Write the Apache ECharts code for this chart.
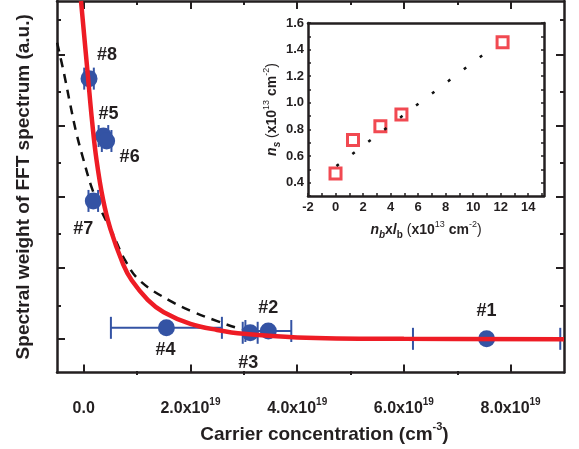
<!DOCTYPE html>
<html><head><meta charset="utf-8">
<script src="https://cdn.jsdelivr.net/npm/echarts@6/dist/echarts.min.js"></script>
<style>html,body{margin:0;padding:0;background:#fff}#c{width:579px;height:449px}</style>
</head><body><div id="c"></div>
<script>
// ---- main panel data (carrier concentration in units of 1e19 cm^-3) ----
const sampleNames    = ['#1', '#2', '#3', '#4', '#5', '#6', '#7', '#8'];
const carrierConc    = [7.55, 3.46, 3.12, 1.55, 0.37, 0.43, 0.18, 0.10];
const spectralWeight = [0.00, 0.22, 0.17, 0.31, 5.72, 5.58, 3.89, 7.34];
const carrierErr     = [1.38, 0.43, 0.14, 1.04, 0.09, 0.09, 0.09, 0.09];

// red solid fit curve
const fitX = [-0.05, 0.08, 0.16, 0.24, 0.36, 0.50, 0.74, 0.90, 1.20, 1.50, 2.00, 2.50, 3.00, 4.00, 6.00, 9.00];
const fitY = [9.53, 7.40, 6.10, 5.05, 3.95, 3.10, 2.10, 1.65, 1.10, 0.75, 0.42, 0.25, 0.14, 0.04, 0.00, -0.01];
// black dashed curve
const dashX = [-0.497, -0.365, -0.253, -0.141, -0.009, 0.159, 0.328, 0.534, 0.778, 1.059, 1.621, 2.052, 2.502, 2.876, 3.157];
const dashY = [8.35, 7.46, 6.62, 5.83, 5.08, 4.23, 3.62, 3.00, 2.21, 1.63, 1.07, 0.76, 0.50, 0.31, 0.22];

// tick values
const xMajorTicks = [0, 2, 4, 6, 8];
const xMinorTicks = [1, 3, 5, 7];
const yMajorTicks = [0, 2, 4, 6, 8];
const yMinorTicks = [1, 3, 5, 7, 9];

// ---- inset data ----
const nbLb = [0.0, 1.27, 3.26, 4.79, 12.14];
const ns   = [0.47, 0.72, 0.825, 0.913, 1.455];
const lineX = [0.065, 11.21];
const lineY = [0.525, 1.40];

// ---- styles ----
const FONT = 'Liberation Sans, Arial, Helvetica, sans-serif';
const TXT = '#231f20';
const BLUE = '#3453a4';
const RED = '#ee1c25';
const labelOffsets = {'#1':[0,-28], '#2':[0,-23], '#3':[-2,30], '#4':[-1,22], '#5':[5,-22], '#6':[23,16], '#7':[-10,28], '#8':[18,-24]};

const chart = echarts.init(document.getElementById('c'), null, {renderer: 'canvas'});

const mainGrid = {left: 57, right: 15, top: 1, bottom: 74};
const xMin = -0.5, xMax = 9.0, yMin = -0.953, yMax = 9.53;
const frameLine = {show: true, onZero: false, lineStyle: {color: TXT, width: 2.5}};
const noLine = {show: false, onZero: false};

function xAx(grid, pos, ticks, len, extra) {
  return Object.assign({
    type: 'value', gridIndex: grid, position: pos, min: xMin, max: xMax,
    splitLine: {show: false}, axisLabel: {show: false},
    axisLine: noLine,
    axisTick: {show: true, inside: true, length: len, customValues: ticks, lineStyle: {color: TXT, width: 2}}
  }, extra || {});
}
function yAx(grid, pos, ticks, len, extra) {
  return Object.assign({
    type: 'value', gridIndex: grid, position: pos, min: yMin, max: yMax,
    splitLine: {show: false}, axisLabel: {show: false},
    axisLine: noLine,
    axisTick: {show: true, inside: true, length: len, customValues: ticks, lineStyle: {color: TXT, width: 2}}
  }, extra || {});
}

const supRich = {
  a: {fontFamily: FONT, fontSize: 16, fontWeight: 'bold', color: TXT, lineHeight: 22},
  s: {fontFamily: FONT, fontSize: 10, fontWeight: 'bold', color: TXT, lineHeight: 10, verticalAlign: 'top'}
};

const titleRich = {
  t: {fontFamily: FONT, fontSize: 19, fontWeight: 'bold', color: TXT, lineHeight: 26},
  s: {fontFamily: FONT, fontSize: 11, fontWeight: 'bold', color: TXT, lineHeight: 11, verticalAlign: 'top'}
};

const insetRich = {
  i: {fontFamily: FONT, fontSize: 14, fontWeight: 'bold', fontStyle: 'italic', color: TXT, lineHeight: 20},
  sb: {fontFamily: FONT, fontSize: 10, fontStyle: 'italic', fontWeight: 'bold', color: TXT, lineHeight: 10, verticalAlign: 'bottom'},
  sr: {fontFamily: FONT, fontSize: 10, fontWeight: 'bold', color: TXT, lineHeight: 10, verticalAlign: 'bottom'},
  t: {fontFamily: FONT, fontSize: 14, fontWeight: 'bold', color: TXT, lineHeight: 20},
  p: {fontFamily: FONT, fontSize: 14, fontWeight: 'normal', color: TXT, lineHeight: 20},
  u: {fontFamily: FONT, fontSize: 9, fontWeight: 'normal', color: TXT, lineHeight: 9, verticalAlign: 'top'}
};

const isEvenInt = (v, step) => {
  const k = Math.round(v / step);
  return Math.abs(v / step - k) < 1e-6 && k % 2 === 0;
};

const option = {
  animation: false,
  backgroundColor: '#fff',
  grid: [
    Object.assign({}, mainGrid),
    Object.assign({}, mainGrid),
    {left: 308, right: 35, top: 23, bottom: 253, show: true, backgroundColor: '#fff', borderWidth: 0}
  ],
  xAxis: [
    xAx(0, 'bottom', xMajorTicks, 8, {
      axisLine: frameLine,
      axisLabel: {
        show: true, customValues: xMajorTicks, margin: 25,
        formatter: v => Math.abs(v) < 1e-9 ? '{a|0.0}' : '{a|' + v.toFixed(1) + 'x10}{s|19}',
        rich: supRich
      },
      name: '{t|Carrier concentration (cm}{s|-3}{t|)}',
      nameLocation: 'middle', nameGap: 48,
      nameTextStyle: {rich: titleRich, padding: [0, 0, 0, 28]}
    }),
    xAx(0, 'top', xMajorTicks, 8, {axisLine: frameLine}),
    xAx(1, 'bottom', xMinorTicks, 4),
    xAx(1, 'top', xMinorTicks, 4),
    {
      type: 'value', gridIndex: 2, position: 'bottom', min: -2, max: 15.15, interval: 1,
      splitLine: {show: false},
      axisLine: frameLine,
      axisTick: {show: true, inside: true, length: 3, lineStyle: {color: TXT, width: 1.5}},
      axisLabel: {
        show: true, margin: 5, fontFamily: FONT, fontSize: 13, fontWeight: 'bold', color: TXT,
        showMaxLabel: false,
        formatter: v => isEvenInt(v, 1) ? String(Math.round(v)) : ''
      },
      name: '{i|n}{sb|b}{t|x}{i|l}{sr|b}{p| (}{t|x10}{u|13}{t| cm}{u|-2}{p|)}',
      nameLocation: 'middle', nameGap: 24,
      nameTextStyle: {rich: insetRich}
    },
    {
      type: 'value', gridIndex: 2, position: 'top', min: -2, max: 15.15, interval: 1,
      splitLine: {show: false}, axisLine: frameLine, axisTick: {show: false}, axisLabel: {show: false}
    }
  ],
  yAxis: [
    yAx(0, 'left', yMajorTicks, 8, {
      axisLine: frameLine,
      name: 'Spectral weight of FFT spectrum (a.u.)',
      nameLocation: 'middle', nameGap: 24,
      nameTextStyle: {fontFamily: FONT, fontSize: 19, fontWeight: 'bold', color: TXT}
    }),
    yAx(0, 'right', yMajorTicks, 8, {axisLine: frameLine}),
    yAx(1, 'left', yMinorTicks, 4),
    yAx(1, 'right', yMinorTicks, 4),
    {
      type: 'value', gridIndex: 2, position: 'left', min: 0.3, max: 1.6, interval: 0.1,
      splitLine: {show: false},
      axisLine: frameLine,
      axisTick: {show: true, inside: true, length: 3, lineStyle: {color: TXT, width: 1.5}},
      axisLabel: {
        show: true, margin: 4, fontFamily: FONT, fontSize: 13, fontWeight: 'bold', color: TXT,
        formatter: v => isEvenInt(v, 0.1) ? v.toFixed(1) : ''
      },
      name: '{i|n}{sb|s}{p| (}{t|x10}{u|13}{t| cm}{u|-2}{p|)}',
      nameLocation: 'middle', nameGap: 26,
      nameTextStyle: {rich: insetRich}
    },
    {
      type: 'value', gridIndex: 2, position: 'right', min: 0.3, max: 1.6, interval: 0.1,
      splitLine: {show: false}, axisLine: frameLine,
      axisTick: {show: true, inside: true, length: 3, lineStyle: {color: TXT, width: 1.5}},
      axisLabel: {show: false}
    }
  ],
  series: [
    {
      type: 'line', xAxisIndex: 0, yAxisIndex: 0, data: dashX.map((x, i) => [x, dashY[i]]),
      smooth: 0.4, showSymbol: false, symbol: 'none', clip: true,
      lineStyle: {color: '#111', width: 2.5, type: [9, 7]}, z: 3
    },
    {
      type: 'custom', xAxisIndex: 0, yAxisIndex: 0,
      data: carrierConc.map((x, i) => [x, spectralWeight[i], carrierErr[i]]),
      encode: {x: 0, y: 1},
      renderItem: (params, api) => {
        const x = api.value(0), y = api.value(1), e = api.value(2);
        const p1 = api.coord([x - e, y]), p2 = api.coord([x + e, y]);
        const h = 11;
        const st = {stroke: BLUE, lineWidth: 2};
        return {type: 'group', children: [
          {type: 'line', shape: {x1: p1[0], y1: p1[1], x2: p2[0], y2: p2[1]}, style: st},
          {type: 'line', shape: {x1: p1[0], y1: p1[1] - h, x2: p1[0], y2: p1[1] + h}, style: st},
          {type: 'line', shape: {x1: p2[0], y1: p2[1] - h, x2: p2[0], y2: p2[1] + h}, style: st}
        ]};
      },
      z: 4
    },
    {
      type: 'scatter', xAxisIndex: 0, yAxisIndex: 0, symbol: 'circle', symbolSize: 17,
      itemStyle: {color: BLUE, opacity: 1},
      data: carrierConc.map((x, i) => ({
        name: sampleNames[i], value: [x, spectralWeight[i]],
        label: {offset: labelOffsets[sampleNames[i]]}
      })),
      label: {show: true, position: 'inside', formatter: p => p.name,
        fontFamily: FONT, fontSize: 18, fontWeight: 'bold', color: TXT},
      z: 5
    },
    {
      type: 'line', xAxisIndex: 0, yAxisIndex: 0, data: fitX.map((x, i) => [x, fitY[i]]),
      smooth: 0.4, showSymbol: false, symbol: 'none', clip: true,
      lineStyle: {color: RED, width: 4.5}, z: 6
    },
    {
      type: 'scatter', xAxisIndex: 4, yAxisIndex: 4, symbol: 'rect', symbolSize: 11,
      itemStyle: {color: '#fff', borderColor: RED, borderWidth: 3},
      data: nbLb.map((x, i) => [x, ns[i]]), z: 7
    },
    {
      type: 'line', xAxisIndex: 4, yAxisIndex: 4, data: lineX.map((x, i) => [x, lineY[i]]),
      showSymbol: false, symbol: 'none',
      lineStyle: {color: '#111', width: 2.5, type: [3, 17]}, z: 8
    }
  ]
};
chart.setOption(option);
</script>
</body></html>
